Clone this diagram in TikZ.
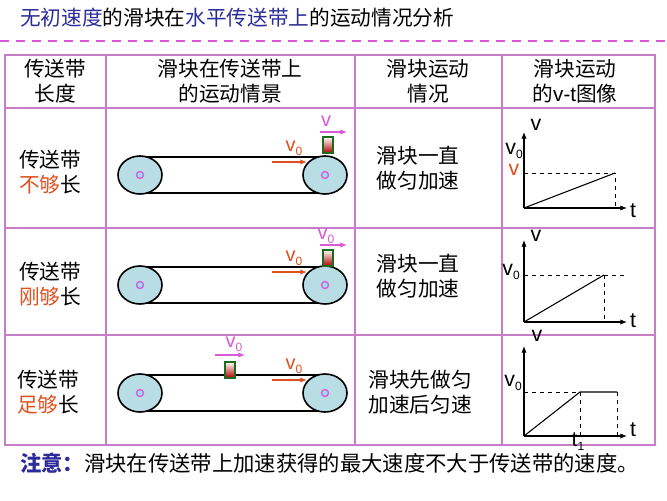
\documentclass[tikz,border=0pt]{standalone}
\usepackage{fontspec}
\setmainfont{Noto Sans CJK SC}
\newfontfamily\lat{Liberation Sans}
\usetikzlibrary{arrows.meta}
\definecolor{tblue}{HTML}{2B2B9A}
\definecolor{tline}{HTML}{C87DC8}
\definecolor{tpink}{HTML}{D85AD8}
\definecolor{torange}{HTML}{E0501E}
\definecolor{pul}{HTML}{B8DDE4}
\definecolor{blk}{HTML}{1E6B1E}
\newcommand{\lsub}[1]{\raisebox{-0.35ex}{\fontsize{9}{9}\selectfont #1}}
\tikzset{
 txt/.style={font=\fontsize{15.5}{19}\selectfont, align=center, inner sep=0pt},
 lab/.style={font=\lat\fontsize{15}{15}\selectfont, inner sep=0pt},
 ax/.style={-{Latex[length=5pt,width=4pt]}, line width=0.8pt},
 dsh/.style={dashed, line width=0.6pt},
 varr/.style={-{Latex[length=5pt,width=4pt]}, tpink, line width=0.8pt},
 oarr/.style={-{Latex[length=5pt,width=4pt]}, torange, line width=0.9pt},
}
\begin{document}
\begin{tikzpicture}[x=0.75pt,y=-0.75pt]
\useasboundingbox (0,0) rectangle (667,500);
\node[anchor=west, font=\fontsize{15.5}{19}\selectfont, inner sep=0pt] (title) at (20,18)
 {\textcolor{tblue}{无初速度}的滑块在\textcolor{tblue}{水平传送带上}的运动情况分析};
\draw[tpink, line width=1.6pt, dash pattern=on 7pt off 5pt] (0,41) -- (667,41);
% table
\draw[tline, line width=1pt] (5,55) rectangle (655,445);
\foreach \x in {106,355,502} \draw[tline, line width=1pt] (\x,55) -- (\x,445);
\foreach \y in {108,228,335} \draw[tline, line width=1pt] (5,\y) -- (655,\y);
\node[txt] (h1) at (55,81) {传送带\\长度};
\node[txt] (h2) at (230,81) {滑块在传送带上\\的运动情景};
\node[txt] (h3) at (428,81) {滑块运动\\情况};
\node[txt] (h4) at (575,81) {滑块运动\\的{\lat v-t}图像};
\node[txt] (r1) at (50,172) {传送带\\\textcolor{torange}{不够}长};
\node[txt] (r2) at (50,284) {传送带\\\textcolor{torange}{刚够}长};
\node[txt] (r3) at (48,392) {传送带\\\textcolor{torange}{足够}长};
\node[txt] (m1) at (418,168) {滑块一直\\做匀加速};
\node[txt] (m2) at (418,276) {滑块一直\\做匀加速};
\node[txt] (m3) at (420,392) {滑块先做匀\\加速后匀速};
% belts
\foreach \cy/\n in {175/1,285/2,393/3}{
 \draw[line width=1.2pt] (140,\cy-18) -- (325,\cy-18);
 \draw[line width=1.2pt] (140,\cy+18) -- (325,\cy+18);
 \foreach \cx in {140,325}{
  \draw[line width=1.2pt, fill=pul] (\cx,\cy) ellipse [x radius=22, y radius=19];
  \draw[tpink, line width=1pt, fill=cyan!40] (\cx,\cy) circle [radius=3.5];
 }
 \draw[oarr] (272,\cy-13) -- (307,\cy-13);
 \node[lab, torange] at (294,\cy-27) {v\lsub{0}};
}
\tikzset{blockst/.style={draw=blk, line width=1.2pt, top color=white, bottom color=red!70!black}}
\draw[blockst] (323,137) rectangle (333,153);
\draw[varr] (320,132) -- (347,132);
\node[lab, tpink] at (326,121) {v};
\draw[blockst] (323,250) rectangle (333,266);
\draw[varr] (320,245) -- (347,245);
\node[lab, tpink] at (326,236) {v\lsub{0}};
\draw[blockst] (225,362) rectangle (235,378);
\draw[varr] (215,355) -- (245,355);
\node[lab, tpink] at (234,344) {v\lsub{0}};
% graphs
\tikzset{gl/.style={font=\lat\fontsize{16}{16}\selectfont, inner sep=0pt}}
% g1
\coordinate (o1) at (524,208);
\draw[ax] (o1) -- (524,132); \draw[ax] (o1) -- (627,208);
\node[gl] at (536,125) {v}; \node[gl] at (633,211) {t};
\draw[line width=0.8pt] (o1) -- (615,173);
\draw[dsh] (524,173) -- (615,173) -- (615,208);
\node[gl] at (514,151) {v\lsub{0}};
\node[gl, torange] at (514,170) {v};
% g2
\coordinate (o2) at (524,322);
\draw[ax] (o2) -- (524,240); \draw[ax] (o2) -- (627,322);
\node[gl] at (536,236) {v}; \node[gl] at (633,321) {t};
\draw[line width=0.8pt] (o2) -- (604,275);
\draw[dsh] (524,275) -- (625,275); \draw[dsh] (604,275) -- (604,322);
\node[gl] at (511,272) {v\lsub{0}};
% g3
\coordinate (o3) at (524,436);
\draw[ax] (o3) -- (524,346); \draw[ax] (o3) -- (627,436);
\node[gl] at (537,336) {v}; \node[gl] at (633,430) {t};
\draw[line width=0.8pt] (o3) -- (580,392) -- (617,392);
\draw[dsh] (524,392) -- (580,392) -- (580,436); \draw[dsh] (617,392) -- (617,436);
\node[gl] at (513,383) {v\lsub{0}};
\node[gl] at (578,442) {t\lsub{1}};
% note
\node[anchor=west, font=\fontsize{16}{19}\selectfont, inner sep=0pt] (note) at (20,463)
 {\textcolor{tblue}{\textbf{注意：}}滑块在传送带上加速获得的最大速度不大于传送带的速度。};
\end{tikzpicture}
\end{document}
